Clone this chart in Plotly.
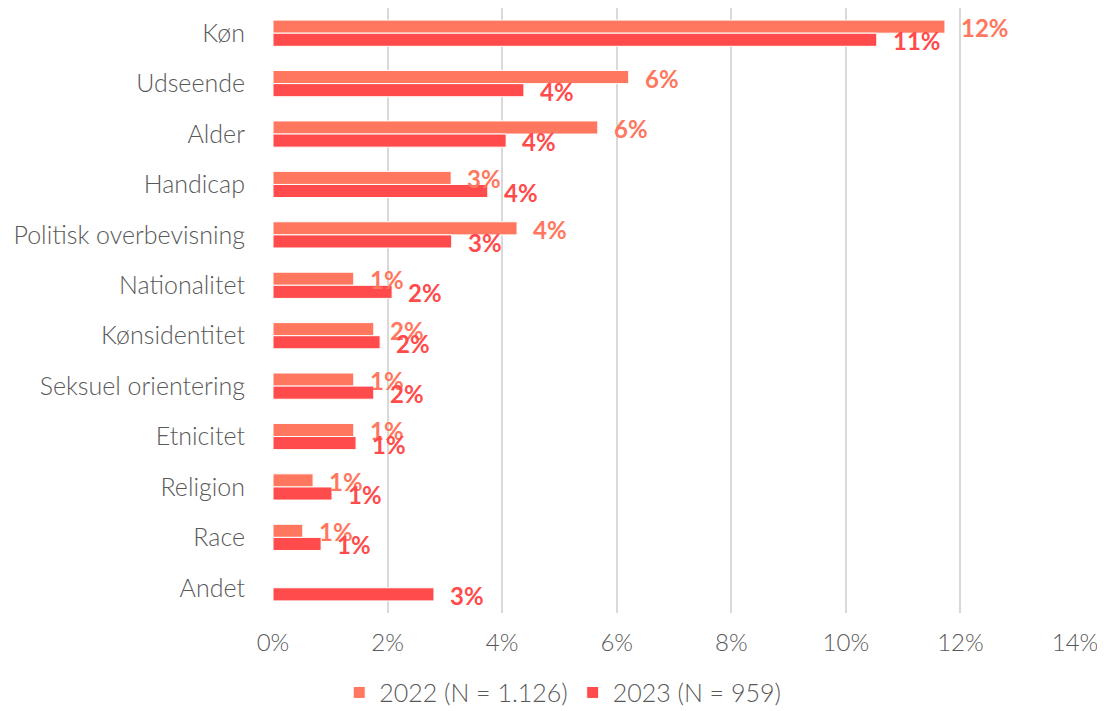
import plotly.graph_objects as go

categories = ["Køn", "Udseende", "Alder", "Handicap", "Politisk overbevisning", "Nationalitet",
              "Kønsidentitet", "Seksuel orientering", "Etnicitet", "Religion", "Race", "Andet"]
v2022 = [11.73, 6.21, 5.67, 3.11, 4.26, 1.41, 1.76, 1.41, 1.41, 0.70, 0.52, None]
v2023 = [10.54, 4.38, 4.07, 3.75, 3.12, 2.08, 1.87, 1.76, 1.45, 1.03, 0.84, 2.81]
name2022 = "2022 (N = 1.126)"
name2023 = "2023 (N = 959)"
c2022 = "#FF775E"
c2023 = "#FF4B4B"
xticks = [0, 2, 4, 6, 8, 10, 12, 14]

FONT = "Lato"
TXT = "#595959"

fig = go.Figure()
fig.add_trace(go.Bar(y=categories, x=v2022, name=name2022, orientation="h",
                     marker=dict(color=c2022, line=dict(color="white", width=1))))
fig.add_trace(go.Bar(y=categories, x=v2023, name=name2023, orientation="h",
                     marker=dict(color=c2023, line=dict(color="white", width=1))))

annotations = []
for vals, col in [(v2022, c2022), (v2023, c2023)]:
    for i, (cat, v) in enumerate(zip(categories, vals)):
        if v is None:
            continue
        offs = -0.13 if col == c2022 else 0.13
        annotations.append(dict(x=v, y=i + offs, xref="x", yref="y", text=f"{round(v):d}%",
                                showarrow=False, xanchor="left", yanchor="middle", xshift=14,
                                yshift=-1,
                                font=dict(family=FONT, size=24, color=col, weight="bold")))

fig.update_layout(
    width=1105, height=711,
    paper_bgcolor="white", plot_bgcolor="white",
    margin=dict(l=265, r=38, t=0, b=106),
    barmode="group", bargap=0.48, bargroupgap=0,
    font=dict(family=FONT, size=24, color=TXT, weight=300),
    annotations=annotations,
    legend=dict(orientation="h", x=0.502, xanchor="center", xref="container",
                y=0.037, yanchor="middle", yref="container",
                font=dict(family=FONT, size=25, color=TXT, weight=300),
                itemwidth=30, traceorder="normal"),
    showlegend=True,
)
fig.update_xaxes(range=[0, 14], tickvals=xticks, ticktext=[f"{t}%" for t in xticks],
                 showgrid=True, gridcolor="#D9D9D9", gridwidth=1.5, zeroline=False,
                 showline=False, ticks="outside", ticklen=8, tickcolor="white",
                 tickfont=dict(family=FONT, size=24, color=TXT, weight=300))
fig.update_yaxes(autorange="reversed", showgrid=False, zeroline=False, showline=False,
                 ticks="outside", ticklen=22, tickcolor="white",
                 tickfont=dict(family=FONT, size=25, color=TXT, weight=300),
                 categoryorder="array", categoryarray=categories, type="category")

fig.write_html("out.html")
